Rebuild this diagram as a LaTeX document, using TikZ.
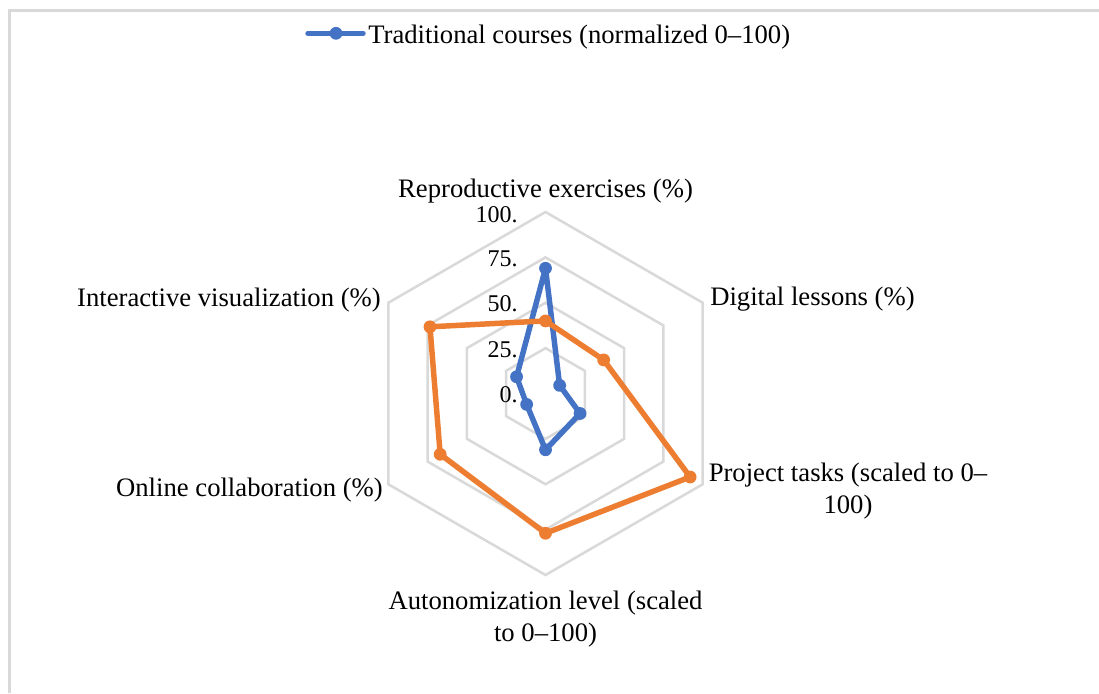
\documentclass[tikz,border=0pt]{standalone}
\usepackage{fontspec}
\setmainfont{Liberation Serif}
\definecolor{gridgray}{HTML}{D9D9D9}
\definecolor{seriesblue}{HTML}{4472C4}
\definecolor{seriesorange}{HTML}{ED7D31}

\begin{document}
\begin{tikzpicture}[x=0.75pt,y=-0.75pt,
  lbl/.style={font=\fontsize{20}{23.7}\selectfont, inner sep=0pt, align=center},
  tick/.style={font=\fontsize{18}{21}\selectfont, inner sep=0pt, anchor=base east},
  ring/.style={draw=gridgray, line width=1.9pt, line join=miter},
  series/.style={line width=4.1pt, line join=round, line cap=round},
  dot/.style={circle, fill=#1, draw=none, inner sep=0pt, minimum size=9.6pt}]
\useasboundingbox (0,0) rectangle (1099,693);

% chart area frame
\draw[gridgray, line width=1.6pt] (9.5,693) -- (9.5,10.5) -- (1099,10.5);

% legend
\coordinate (lgA) at (308,33.3);
\coordinate (lgB) at (363,33.3);
\draw[series, seriesblue] (lgA) -- (lgB);
\node[dot=seriesblue] (lgdot) at (336,33.3) {};
\node[lbl, anchor=base west] (lgtext) at (368,43.3) {Traditional courses (normalized 0--100)};

\begin{scope}[shift={(545.5,393.5)}]
  % hexagonal grid rings
  \foreach \r in {25,50,75,100}
    \draw[ring] (-90:{\r*1.815}) -- (-30:{\r*1.815}) -- (30:{\r*1.815})
      -- (90:{\r*1.815}) -- (150:{\r*1.815}) -- (210:{\r*1.815}) -- cycle;

  % data points
  \foreach \v [count=\i from 0] in {69,9,22,31,12,18.4}
    \coordinate (b\i) at ({-90+60*\i}:{\v*1.815});
  \foreach \v [count=\i from 0] in {40,37,92,77,67,73.5}
    \coordinate (o\i) at ({-90+60*\i}:{\v*1.815});

  % traditional courses series
  \draw[series, seriesblue] (b0) -- (b1) -- (b2) -- (b3) -- (b4) -- (b5) -- cycle;
  \foreach \i in {0,...,5}
    \node[dot=seriesblue] (bm\i) at (b\i) {};

  % second series
  \draw[series, seriesorange] (o0) -- (o1) -- (o2) -- (o3) -- (o4) -- (o5) -- cycle;
  \foreach \i in {0,...,5}
    \node[dot=seriesorange] (om\i) at (o\i) {};
\end{scope}

% axis tick labels
\node[tick] (t100) at (518,222) {100.};
\node[tick] (t75) at (518,266) {75.};
\node[tick] (t50) at (518,311.5) {50.};
\node[tick] (t25) at (518,357) {25.};
\node[tick] (t0) at (518,402.5) {0.};

% category labels (multi-line nodes are anchored at their last baseline)
\node[lbl, anchor=base] (cat0) at (545.5,197.8) {Reproductive exercises (\%)};
\node[lbl, anchor=base west] (cat1) at (710,305) {Digital lessons (\%)};
\node[lbl, anchor=base] (cat2) at (848,513.5) {Project tasks (scaled to 0--\\100)};
\node[lbl, anchor=base] (cat3) at (545.5,641) {Autonomization level (scaled\\to 0--100)};
\node[lbl, anchor=base east] (cat4) at (383,496) {Online collaboration (\%)};
\node[lbl, anchor=base east] (cat5) at (381,306) {Interactive visualization (\%)};
\end{tikzpicture}
\end{document}
